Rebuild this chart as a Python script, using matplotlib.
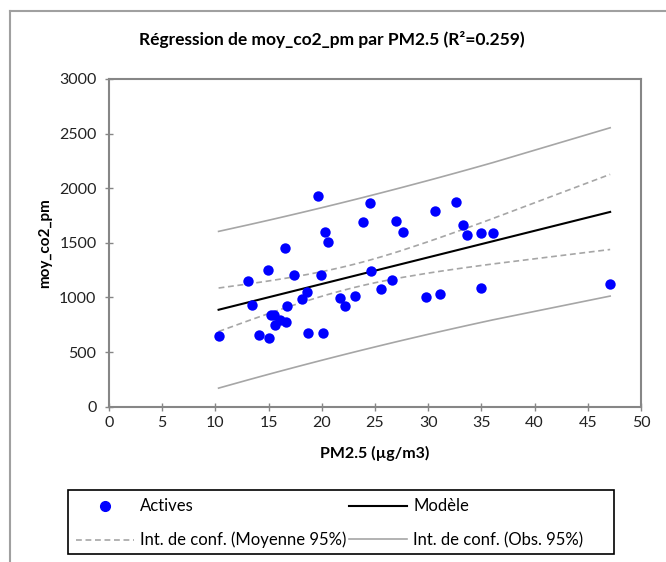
import numpy as np
import matplotlib.pyplot as plt
from matplotlib.lines import Line2D
from matplotlib.patches import Rectangle

plt.rcParams['font.family'] = ['Lato', 'DejaVu Sans']

pm25 = [10.3, 13.1, 13.4, 14.9, 14.1, 15.0, 15.2, 15.5, 15.6, 16.1, 16.6, 16.5,
        16.7, 17.4, 18.1, 18.6, 18.7, 19.6, 19.95, 20.1, 20.3, 20.6, 21.7, 22.2,
        23.1, 23.9, 24.5, 24.6, 25.6, 26.6, 27.0, 27.6, 29.8, 30.6, 31.1, 32.6,
        33.3, 33.6, 35.0, 35.0, 36.1, 47.1]
co2 = [643, 1150, 928, 1253, 659, 625, 837, 837, 746, 795, 771, 1456,
       923, 1205, 983, 1047, 673, 1933, 1205, 673, 1596, 1508, 998, 925,
       1010, 1687, 1869, 1241, 1077, 1156, 1699, 1599, 1007, 1796, 1032, 1875,
       1665, 1571, 1592, 1086, 1592, 1123]

x_ticks = [0, 5, 10, 15, 20, 25, 30, 35, 40, 45, 50]
y_ticks = [0, 500, 1000, 1500, 2000, 2500, 3000]

x = np.array(pm25)
y = np.array(co2)
n = len(x)

# ordinary least squares and 95% intervals
b, a = np.polyfit(x, y, 1)
xs = np.unique(np.sort(x))
fit = a + b * xs
resid = y - (a + b * x)
s = np.sqrt(np.sum(resid ** 2) / (n - 2))
sxx = np.sum((x - x.mean()) ** 2)
t = 2.021  # t(0.975, 40)
half_mean = t * s * np.sqrt(1 / n + (xs - x.mean()) ** 2 / sxx)
half_obs = t * s * np.sqrt(1 + 1 / n + (xs - x.mean()) ** 2 / sxx)

fig = plt.figure(figsize=(6.66, 5.62), dpi=100)
ax = fig.add_axes([109 / 666, 1 - 406.7 / 562, (641 - 109) / 666, (406.7 - 79) / 562])

grey = '#A6A6A6'
dash = (0, (3.5, 2.2))
ax.plot(xs, fit + half_obs, color=grey, lw=1.2)
ax.plot(xs, fit - half_obs, color=grey, lw=1.2)
ax.plot(xs, fit + half_mean, color=grey, lw=1.2, ls=dash)
ax.plot(xs, fit - half_mean, color=grey, lw=1.2, ls=dash)
ax.plot(xs, fit, color='black', lw=1.5)
ax.scatter(x, y, s=56, color='#0000FF', zorder=5, linewidths=0)

ax.set_xlim(0, 50)
ax.set_ylim(0, 3000)
ax.set_xticks(x_ticks)
ax.set_yticks(y_ticks)
for sp in ax.spines.values():
    sp.set_color('#868686')
    sp.set_linewidth(1.5)
ax.tick_params(direction='inout', length=6, width=1, color='#868686',
               labelsize=11.5, labelcolor='#222222', pad=4)
ax.tick_params(axis='y', pad=6)

ax.set_xlabel('PM2.5 (µg/m3)', fontsize=11.5, fontweight='bold')
ax.set_ylabel('moy_co2_pm', fontsize=11, fontweight='bold')
ax.xaxis.set_label_coords(0.5, (406.7 - 453) / 327.7)
ax.xaxis.label.set_va('center')
ax.yaxis.set_label_coords((45 - 109) / 532, 0.5)
ax.yaxis.label.set_va('center')
fig.text(332 / 666, 1 - 40 / 562, 'Régression de moy_co2_pm par PM2.5 (R²=0.259)',
         ha='center', va='center', fontsize=12.5, fontweight='bold')

# outer chart frame (top and left edges)
fig.add_artist(Line2D([10 / 666, 1], [1 - 11 / 562] * 2, color='#A0A0A0', lw=1.5))
fig.add_artist(Line2D([10 / 666] * 2, [0, 1 - 11 / 562], color='#A0A0A0', lw=1.5))

# legend box, drawn separately so the columns keep their natural spacing
fig.add_artist(Rectangle((67.7 / 666, 1 - 554 / 562), (614 - 67.7) / 666, 64 / 562,
                         transform=fig.transFigure, fill=False,
                         edgecolor='black', lw=1.2))
handles = [
    Line2D([], [], ls='none', marker='o', color='#0000FF', markersize=7),
    Line2D([], [], color=grey, lw=1.2, ls=dash),
    Line2D([], [], color='black', lw=1.5),
    Line2D([], [], color=grey, lw=1.2),
]
labels = ['Actives', 'Int. de conf. (Moyenne 95%)', 'Modèle', 'Int. de conf. (Obs. 95%)']
fig.legend(handles, labels, ncol=2, loc='upper left',
           bbox_to_anchor=(67.7 / 666, 1 - 490 / 562),
           fontsize=12, frameon=False, handlelength=3.5, handletextpad=0.35,
           borderaxespad=0, labelspacing=1.05, columnspacing=0.15,
           borderpad=0.5)

fig.savefig('out.png', dpi=100)
